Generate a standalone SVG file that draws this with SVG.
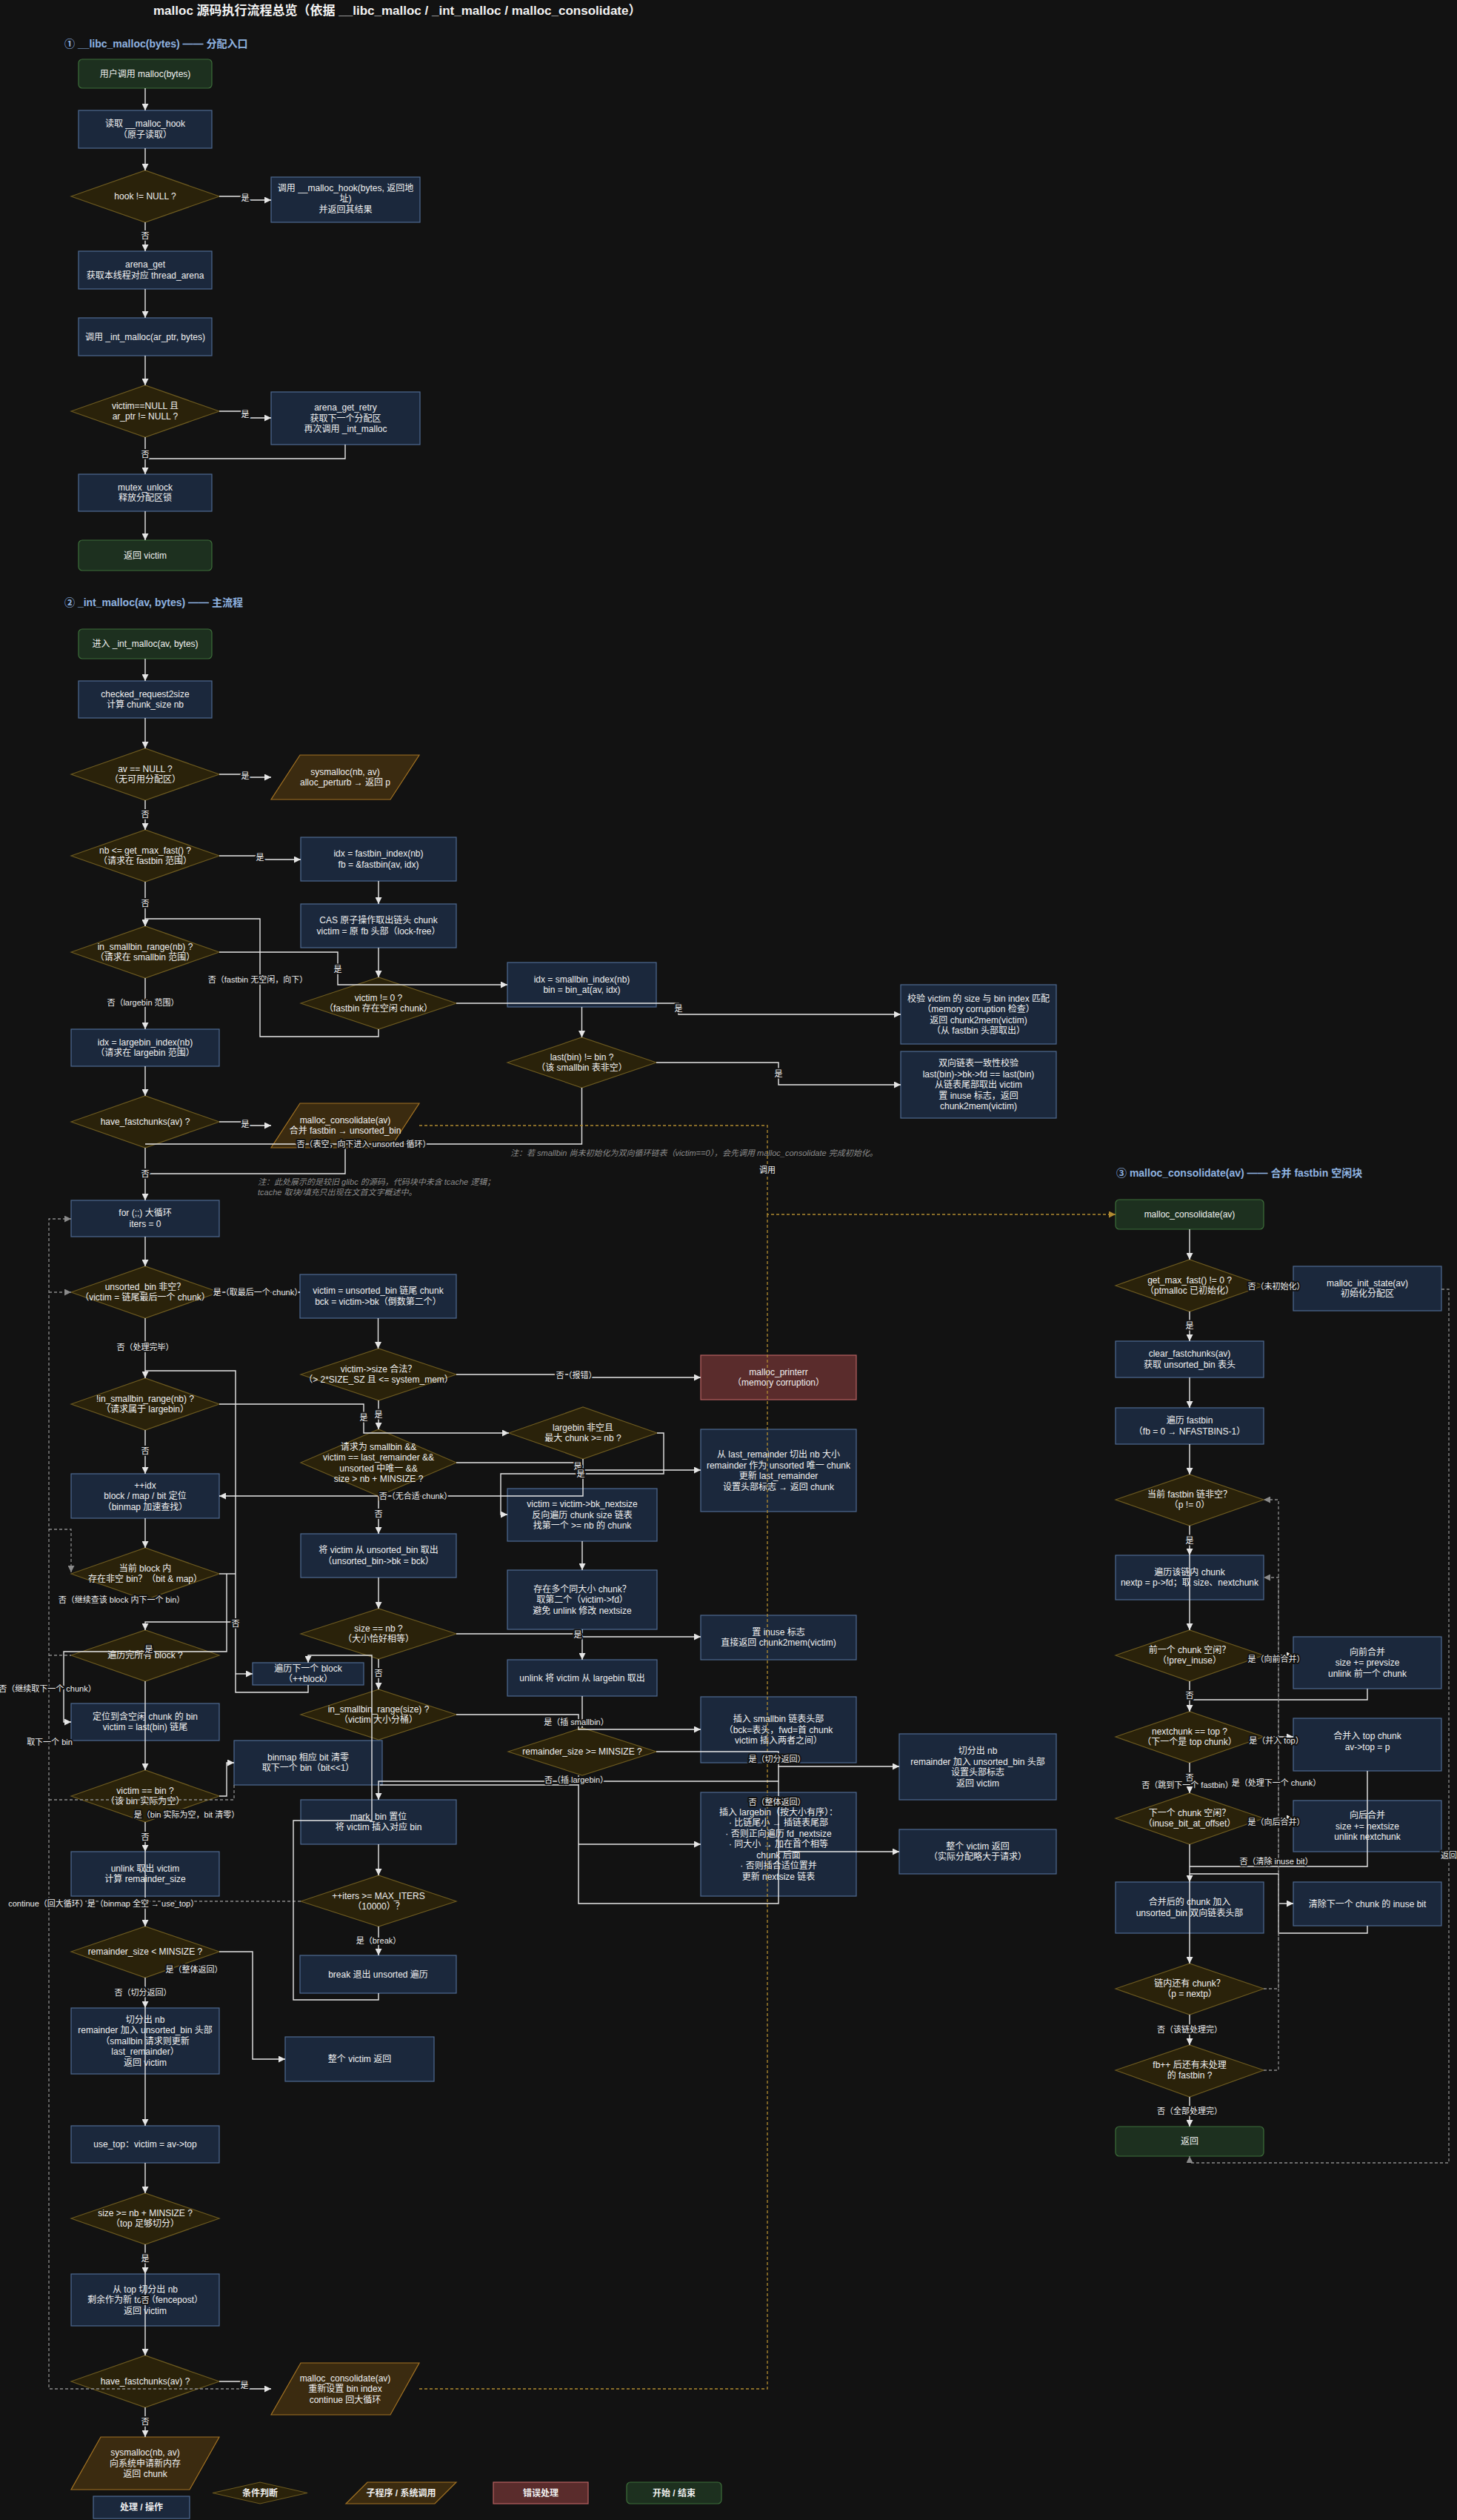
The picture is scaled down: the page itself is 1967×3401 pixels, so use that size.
<svg xmlns="http://www.w3.org/2000/svg" width="1967" height="3401" viewBox="0 0 1967 3401">
<defs>
<style>
.t{font-family:"Liberation Sans","Noto Sans CJK SC",sans-serif;font-size:12px;fill:#f0f0f0;text-anchor:middle}
.b{font-weight:bold}
.p{fill:#1b283c;stroke:#4f6a92;stroke-width:1.2}
.d{fill:#2a220a;stroke:#6b5920;stroke-width:1.2}
.s{fill:#3b2b10;stroke:#a37323;stroke-width:1.2}
.g{fill:#1d301f;stroke:#3d6f3a;stroke-width:1.2}
.e{fill:#5a2c2c;stroke:#b86262;stroke-width:1.2}
.c{fill:none;stroke:#e6e6e6;stroke-width:1.4}
.a{marker-end:url(#aw)}
.cg{fill:none;stroke:#8a8a8a;stroke-width:1.3;stroke-dasharray:4 3}
.ag{marker-end:url(#ag)}
.co{fill:none;stroke:#b08a30;stroke-width:1.3;stroke-dasharray:4 3}
.ao{marker-end:url(#ao)}
.l{font-family:"Liberation Sans","Noto Sans CJK SC",sans-serif;font-size:11px;fill:#eeeeee;text-anchor:middle;paint-order:stroke;stroke:#121212;stroke-width:4px;stroke-linejoin:round}
.h{font-family:"Liberation Sans","Noto Sans CJK SC",sans-serif;font-size:14px;font-weight:bold;fill:#8fb3e0}
.n{font-family:"Liberation Sans","Noto Sans CJK SC",sans-serif;font-size:11px;font-style:italic;fill:#8a8a8a}
.ttl{font-family:"Liberation Sans","Noto Sans CJK SC",sans-serif;font-size:17px;font-weight:bold;fill:#f2f2f2}
</style>
<marker id="aw" viewBox="0 0 10 10" refX="10" refY="5" markerWidth="9" markerHeight="9" markerUnits="userSpaceOnUse" orient="auto"><path d="M0,0 L10,5 L0,10 z" fill="#e6e6e6"/></marker>
<marker id="ag" viewBox="0 0 10 10" refX="10" refY="5" markerWidth="9" markerHeight="9" markerUnits="userSpaceOnUse" orient="auto"><path d="M0,0 L10,5 L0,10 z" fill="#8a8a8a"/></marker>
<marker id="ao" viewBox="0 0 10 10" refX="10" refY="5" markerWidth="9" markerHeight="9" markerUnits="userSpaceOnUse" orient="auto"><path d="M0,0 L10,5 L0,10 z" fill="#b08a30"/></marker>
</defs>
<rect x="0" y="0" width="1967" height="3401" fill="#121212"/>
<text class="ttl" x="207" y="20">malloc 源码执行流程总览（依据 __libc_malloc / _int_malloc / malloc_consolidate）</text>
<text class="h" x="87" y="63.5">① __libc_malloc(bytes) —— 分配入口</text>
<text class="h" x="87" y="818">② _int_malloc(av, bytes) —— 主流程</text>
<text class="h" x="1507" y="1588">③ malloc_consolidate(av) —— 合并 fastbin 空闲块</text>

<g id="nodes-sec1">
<g id="n1"><rect class="g" x="106" y="80" width="180" height="39" rx="5"/><text class="t" x="196" y="103.7">用户调用 malloc(bytes)</text></g>
<g id="n2"><rect class="p" x="106" y="149" width="180" height="51"/><text class="t" y="171.4"><tspan x="196">读取 __malloc_hook</tspan><tspan x="196" dy="14.5">（原子读取）</tspan></text></g>
<g id="d1"><polygon class="d" points="96,265 196,230 296,265 196,300"/><text class="t" x="196" y="269.2">hook != NULL ?</text></g>
<g id="n3"><rect class="p" x="366" y="239" width="201" height="61"/><text class="t" y="257.5"><tspan x="466.5">调用 __malloc_hook(bytes, 返回地</tspan><tspan x="466.5" dy="14.5">址)</tspan><tspan x="466.5" dy="14.5">并返回其结果</tspan></text></g>
<g id="n4"><rect class="p" x="106" y="339" width="180" height="51"/><text class="t" y="361.4"><tspan x="196">arena_get</tspan><tspan x="196" dy="14.5">获取本线程对应 thread_arena</tspan></text></g>
<g id="n5"><rect class="p" x="106" y="429" width="180" height="51"/><text class="t" x="196" y="458.7">调用 _int_malloc(ar_ptr, bytes)</text></g>
<g id="d2"><polygon class="d" points="96,555 196,520 296,555 196,590"/><text class="t" y="551.9"><tspan x="196">victim==NULL 且</tspan><tspan x="196" dy="14.5">ar_ptr != NULL ?</tspan></text></g>
<g id="n6"><rect class="p" x="366" y="529" width="201" height="71"/><text class="t" y="554.2"><tspan x="466.5">arena_get_retry</tspan><tspan x="466.5" dy="14.5">获取下一个分配区</tspan><tspan x="466.5" dy="14.5">再次调用 _int_malloc</tspan></text></g>
<g id="n7"><rect class="p" x="106" y="640" width="180" height="50"/><text class="t" y="661.9"><tspan x="196">mutex_unlock</tspan><tspan x="196" dy="14.5">释放分配区锁</tspan></text></g>
<g id="n8"><rect class="g" x="106" y="729" width="180" height="41" rx="5"/><text class="t" x="196" y="753.7">返回 victim</text></g>
</g>

<g id="nodes-sec2">
<g id="m1"><rect class="g" x="106" y="849" width="180" height="40" rx="5"/><text class="t" x="196" y="873.2">进入 _int_malloc(av, bytes)</text></g>
<g id="m2"><rect class="p" x="106" y="919" width="180" height="50"/><text class="t" y="940.9"><tspan x="196">checked_request2size</tspan><tspan x="196" dy="14.5">计算 chunk_size nb</tspan></text></g>
<g id="md1"><polygon class="d" points="96,1045 196,1010 296,1045 196,1080"/><text class="t" y="1041.9"><tspan x="196">av == NULL ?</tspan><tspan x="196" dy="14.5">（无可用分配区）</tspan></text></g>
<g id="mp1"><polygon class="s" points="405,1019 566,1019 527,1079 366,1079"/><text class="t" y="1045.9"><tspan x="466">sysmalloc(nb, av)</tspan><tspan x="466" dy="14.5">alloc_perturb → 返回 p</tspan></text></g>
<g id="md2"><polygon class="d" points="96,1155 196,1120 296,1155 196,1190"/><text class="t" y="1151.9"><tspan x="196">nb &lt;= get_max_fast() ?</tspan><tspan x="196" dy="14.5">（请求在 fastbin 范围）</tspan></text></g>
<g id="m3"><rect class="p" x="406" y="1130" width="210" height="59"/><text class="t" y="1156.4"><tspan x="511">idx = fastbin_index(nb)</tspan><tspan x="511" dy="14.5">fb = &amp;fastbin(av, idx)</tspan></text></g>
<g id="m4"><rect class="p" x="406" y="1220" width="210" height="59"/><text class="t" y="1246.4"><tspan x="511">CAS 原子操作取出链头 chunk</tspan><tspan x="511" dy="14.5">victim = 原 fb 头部（lock-free）</tspan></text></g>
<g id="md3"><polygon class="d" points="96,1285 196,1250 296,1285 196,1320"/><text class="t" y="1281.9"><tspan x="196">in_smallbin_range(nb) ?</tspan><tspan x="196" dy="14.5">（请求在 smallbin 范围）</tspan></text></g>
<g id="md4"><polygon class="d" points="406,1354 511,1319 616,1354 511,1389"/><text class="t" y="1350.9"><tspan x="511">victim != 0 ?</tspan><tspan x="511" dy="14.5">（fastbin 存在空闲 chunk）</tspan></text></g>
<g id="m5"><rect class="p" x="685" y="1299" width="201" height="60"/><text class="t" y="1325.9"><tspan x="785.5">idx = smallbin_index(nb)</tspan><tspan x="785.5" dy="14.5">bin = bin_at(av, idx)</tspan></text></g>
<g id="md5"><polygon class="d" points="685,1434 785.5,1400 886,1434 785.5,1468"/><text class="t" y="1430.9"><tspan x="785.5">last(bin) != bin ?</tspan><tspan x="785.5" dy="14.5">（该 smallbin 表非空）</tspan></text></g>
<g id="m6"><rect class="p" x="1216" y="1329" width="210" height="80"/><text class="t" y="1351.5"><tspan x="1321">校验 victim 的 size 与 bin index 匹配</tspan><tspan x="1321" dy="14.5">（memory corruption 检查）</tspan><tspan x="1321" dy="14.5">返回 chunk2mem(victim)</tspan><tspan x="1321" dy="14.5">（从 fastbin 头部取出）</tspan></text></g>
<g id="m7"><rect class="p" x="1216" y="1419" width="210" height="90"/><text class="t" y="1439.2"><tspan x="1321">双向链表一致性校验</tspan><tspan x="1321" dy="14.5">last(bin)-&gt;bk-&gt;fd == last(bin)</tspan><tspan x="1321" dy="14.5">从链表尾部取出 victim</tspan><tspan x="1321" dy="14.5">置 inuse 标志，返回</tspan><tspan x="1321" dy="14.5">chunk2mem(victim)</tspan></text></g>
<g id="m8"><rect class="p" x="96" y="1389" width="200" height="50"/><text class="t" y="1410.9"><tspan x="196">idx = largebin_index(nb)</tspan><tspan x="196" dy="14.5">（请求在 largebin 范围）</tspan></text></g>
<g id="md6"><polygon class="d" points="96,1514 196,1479 296,1514 196,1549"/><text class="t" x="196" y="1518.2">have_fastchunks(av) ?</text></g>
<g id="mp2"><polygon class="s" points="405,1489 566,1489 527,1549 366,1549"/><text class="t" y="1515.9"><tspan x="466">malloc_consolidate(av)</tspan><tspan x="466" dy="14.5">合并 fastbin → unsorted_bin</tspan></text></g>

<g id="u1"><rect class="p" x="96" y="1620" width="200" height="49"/><text class="t" y="1641.4"><tspan x="196">for (;;) 大循环</tspan><tspan x="196" dy="14.5">iters = 0</tspan></text></g>
<g id="ud1"><polygon class="d" points="96,1744 196,1709 296,1744 196,1779"/><text class="t" y="1740.9"><tspan x="196">unsorted_bin 非空？</tspan><tspan x="196" dy="14.5">（victim = 链尾最后一个 chunk）</tspan></text></g>
<g id="u2"><rect class="p" x="405" y="1720" width="211" height="59"/><text class="t" y="1746.4"><tspan x="510.5">victim = unsorted_bin 链尾 chunk</tspan><tspan x="510.5" dy="14.5">bck = victim-&gt;bk（倒数第二个）</tspan></text></g>
<g id="ud2"><polygon class="d" points="406,1855 511,1820 616,1855 511,1890"/><text class="t" y="1851.9"><tspan x="511">victim-&gt;size 合法？</tspan><tspan x="511" dy="14.5">（&gt; 2*SIZE_SZ 且 &lt;= system_mem）</tspan></text></g>
<g id="ue"><rect class="e" x="946" y="1829" width="210" height="60"/><text class="t" y="1855.9"><tspan x="1051">malloc_printerr</tspan><tspan x="1051" dy="14.5">（memory corruption）</tspan></text></g>
<g id="ud3"><polygon class="d" points="96,1895 196,1860 296,1895 196,1930"/><text class="t" y="1891.9"><tspan x="196">!in_smallbin_range(nb) ?</tspan><tspan x="196" dy="14.5">（请求属于 largebin）</tspan></text></g>
<g id="ud4"><polygon class="d" points="406,1974 511,1929 616,1974 511,2019"/><text class="t" y="1956.5"><tspan x="511">请求为 smallbin &amp;&amp;</tspan><tspan x="511" dy="14.5">victim == last_remainder &amp;&amp;</tspan><tspan x="511" dy="14.5">unsorted 中唯一 &amp;&amp;</tspan><tspan x="511" dy="14.5">size &gt; nb + MINSIZE ?</tspan></text></g>
<g id="ud5"><polygon class="d" points="687,1934 787,1899 887,1934 787,1969"/><text class="t" y="1930.9"><tspan x="787">largebin 非空且</tspan><tspan x="787" dy="14.5">最大 chunk &gt;= nb ?</tspan></text></g>
<g id="u3"><rect class="p" x="946" y="1929" width="210" height="111"/><text class="t" y="1967"><tspan x="1051">从 last_remainder 切出 nb 大小</tspan><tspan x="1051" dy="14.5">remainder 作为 unsorted 唯一 chunk</tspan><tspan x="1051" dy="14.5">更新 last_remainder</tspan><tspan x="1051" dy="14.5">设置头部标志 → 返回 chunk</tspan></text></g>
<g id="u4"><rect class="p" x="96" y="1989" width="200" height="60"/><text class="t" y="2008.7"><tspan x="196">++idx</tspan><tspan x="196" dy="14.5">block / map / bit 定位</tspan><tspan x="196" dy="14.5">（binmap 加速查找）</tspan></text></g>
<g id="u5"><rect class="p" x="685" y="2009" width="202" height="71"/><text class="t" y="2034.2"><tspan x="786">victim = victim-&gt;bk_nextsize</tspan><tspan x="786" dy="14.5">反向遍历 chunk size 链表</tspan><tspan x="786" dy="14.5">找第一个 &gt;= nb 的 chunk</tspan></text></g>
<g id="u6"><rect class="p" x="406" y="2070" width="210" height="59"/><text class="t" y="2096.4"><tspan x="511">将 victim 从 unsorted_bin 取出</tspan><tspan x="511" dy="14.5">（unsorted_bin-&gt;bk = bck）</tspan></text></g>
<g id="u7"><rect class="p" x="685" y="2119" width="202" height="80"/><text class="t" y="2148.7"><tspan x="786">存在多个同大小 chunk？</tspan><tspan x="786" dy="14.5">取第二个（victim-&gt;fd）</tspan><tspan x="786" dy="14.5">避免 unlink 修改 nextsize</tspan></text></g>
<g id="ud6"><polygon class="d" points="96,2124 196,2089 296,2124 196,2159"/><text class="t" y="2120.9"><tspan x="196">当前 block 内</tspan><tspan x="196" dy="14.5">存在非空 bin？（bit &amp; map）</tspan></text></g>
<g id="ud7"><polygon class="d" points="406,2205 511,2171 616,2205 511,2239"/><text class="t" y="2201.9"><tspan x="511">size == nb ?</tspan><tspan x="511" dy="14.5">（大小恰好相等）</tspan></text></g>
<g id="u8"><rect class="p" x="946" y="2180" width="210" height="60"/><text class="t" y="2206.9"><tspan x="1051">置 inuse 标志</tspan><tspan x="1051" dy="14.5">直接返回 chunk2mem(victim)</tspan></text></g>
<g id="ud8"><polygon class="d" points="96,2234 196,2200 296,2234 196,2269"/><text class="t" x="196" y="2238.2">遍历完所有 block ?</text></g>
<g id="u9"><rect class="p" x="341" y="2244" width="150" height="30"/><text class="t" y="2255.5"><tspan x="416">遍历下一个 block</tspan><tspan x="416" dy="14">（++block）</tspan></text></g>
<g id="u10"><rect class="p" x="685" y="2240" width="202" height="49"/><text class="t" x="786" y="2268.7">unlink 将 victim 从 largebin 取出</text></g>
<g id="ud9"><polygon class="d" points="406,2314 511,2280 616,2314 511,2348"/><text class="t" y="2310.9"><tspan x="511">in_smallbin_range(size) ?</tspan><tspan x="511" dy="14.5">（victim 大小分桶）</tspan></text></g>
<g id="u11"><rect class="p" x="946" y="2290" width="210" height="89"/><text class="t" y="2324.2"><tspan x="1051">插入 smallbin 链表头部</tspan><tspan x="1051" dy="14.5">（bck=表头，fwd=首 chunk</tspan><tspan x="1051" dy="14.5">victim 插入两者之间）</tspan></text></g>
<g id="ud10"><polygon class="d" points="686,2364 786,2332 886,2364 786,2396"/><text class="t" x="786" y="2368.2">remainder_size &gt;= MINSIZE ?</text></g>
<g id="u12"><rect class="p" x="96" y="2299" width="200" height="50"/><text class="t" y="2320.9"><tspan x="196">定位到含空闲 chunk 的 bin</tspan><tspan x="196" dy="14.5">victim = last(bin) 链尾</tspan></text></g>
<g id="u13"><rect class="p" x="316" y="2349" width="200" height="60"/><text class="t" y="2375.9"><tspan x="416">binmap 相应 bit 清零</tspan><tspan x="416" dy="14.5">取下一个 bin（bit&lt;&lt;1）</tspan></text></g>
<g id="u14"><rect class="p" x="1214" y="2340" width="212" height="89"/><text class="t" y="2367"><tspan x="1320">切分出 nb</tspan><tspan x="1320" dy="14.5">remainder 加入 unsorted_bin 头部</tspan><tspan x="1320" dy="14.5">设置头部标志</tspan><tspan x="1320" dy="14.5">返回 victim</tspan></text></g>
<g id="ud11"><polygon class="d" points="96,2424 196,2389 296,2424 196,2459"/><text class="t" y="2420.9"><tspan x="196">victim == bin ?</tspan><tspan x="196" dy="14.5">（该 bin 实际为空）</tspan></text></g>
<g id="u15"><rect class="p" x="406" y="2429" width="210" height="60"/><text class="t" y="2455.9"><tspan x="511">mark_bin 置位</tspan><tspan x="511" dy="14.5">将 victim 插入对应 bin</tspan></text></g>
<g id="u16"><rect class="p" x="946" y="2419" width="210" height="140"/><text class="t" y="2449.7"><tspan x="1051">插入 largebin（按大小有序）：</tspan><tspan x="1051" dy="14.5">· 比链尾小 → 插链表尾部</tspan><tspan x="1051" dy="14.5">· 否则正向遍历 fd_nextsize</tspan><tspan x="1051" dy="14.5">· 同大小 → 加在首个相等</tspan><tspan x="1051" dy="14.5">chunk 后面</tspan><tspan x="1051" dy="14.5">· 否则插合适位置并</tspan><tspan x="1051" dy="14.5">更新 nextsize 链表</tspan></text></g>
<g id="u17"><rect class="p" x="1214" y="2469" width="212" height="60"/><text class="t" y="2495.9"><tspan x="1320">整个 victim 返回</tspan><tspan x="1320" dy="14.5">（实际分配略大于请求）</tspan></text></g>
<g id="u18"><rect class="p" x="96" y="2499" width="200" height="60"/><text class="t" y="2525.9"><tspan x="196">unlink 取出 victim</tspan><tspan x="196" dy="14.5">计算 remainder_size</tspan></text></g>
<g id="ud12"><polygon class="d" points="406,2566 511,2531 616,2566 511,2600"/><text class="t" y="2562.9"><tspan x="511">++iters &gt;= MAX_ITERS</tspan><tspan x="511" dy="14.5">（10000）？</tspan></text></g>
<g id="ud13"><polygon class="d" points="96,2634 196,2600 296,2634 196,2669"/><text class="t" x="196" y="2638.2">remainder_size &lt; MINSIZE ?</text></g>
<g id="u19"><rect class="p" x="405" y="2639" width="211" height="51"/><text class="t" x="510.5" y="2668.7">break 退出 unsorted 遍历</text></g>
<g id="u20"><rect class="p" x="96" y="2710" width="200" height="89"/><text class="t" y="2729.7"><tspan x="196">切分出 nb</tspan><tspan x="196" dy="14.5">remainder 加入 unsorted_bin 头部</tspan><tspan x="196" dy="14.5">（smallbin 请求则更新</tspan><tspan x="196" dy="14.5">last_remainder）</tspan><tspan x="196" dy="14.5">返回 victim</tspan></text></g>
<g id="u21"><rect class="p" x="385" y="2749" width="201" height="60"/><text class="t" x="485.5" y="2783.2">整个 victim 返回</text></g>
<g id="u22"><rect class="p" x="96" y="2869" width="200" height="50"/><text class="t" x="196" y="2898.2">use_top：victim = av-&gt;top</text></g>
<g id="ud14"><polygon class="d" points="96,2994 196,2960 296,2994 196,3029"/><text class="t" y="2990.9"><tspan x="196">size &gt;= nb + MINSIZE ?</tspan><tspan x="196" dy="14.5">（top 足够切分）</tspan></text></g>
<g id="u23"><rect class="p" x="96" y="3069" width="200" height="70"/><text class="t" y="3093.7"><tspan x="196">从 top 切分出 nb</tspan><tspan x="196" dy="14.5">剩余作为新 top（fencepost）</tspan><tspan x="196" dy="14.5">返回 victim</tspan></text></g>
<g id="ud15"><polygon class="d" points="96,3214 196,3179 296,3214 196,3249"/><text class="t" x="196" y="3218.2">have_fastchunks(av) ?</text></g>
<g id="up1"><polygon class="s" points="406,3189 566,3189 527,3259 366,3259"/><text class="t" y="3213.7"><tspan x="466">malloc_consolidate(av)</tspan><tspan x="466" dy="14.5">重新设置 bin index</tspan><tspan x="466" dy="14.5">continue 回大循环</tspan></text></g>
<g id="up2"><polygon class="s" points="136,3289 296,3289 256,3360 96,3360"/><text class="t" y="3314.2"><tspan x="196">sysmalloc(nb, av)</tspan><tspan x="196" dy="14.5">向系统申请新内存</tspan><tspan x="196" dy="14.5">返回 chunk</tspan></text></g>
</g>

<g id="nodes-sec3">
<g id="c1"><rect class="g" x="1506" y="1619" width="200" height="40" rx="5"/><text class="t" x="1606" y="1643.2">malloc_consolidate(av)</text></g>
<g id="cd1"><polygon class="d" points="1506,1735 1606,1700 1706,1735 1606,1770"/><text class="t" y="1731.9"><tspan x="1606">get_max_fast() != 0 ?</tspan><tspan x="1606" dy="14.5">（ptmalloc 已初始化）</tspan></text></g>
<g id="c2"><rect class="p" x="1746" y="1709" width="200" height="60"/><text class="t" y="1735.9"><tspan x="1846">malloc_init_state(av)</tspan><tspan x="1846" dy="14.5">初始化分配区</tspan></text></g>
<g id="c3"><rect class="p" x="1506" y="1810" width="200" height="49"/><text class="t" y="1831.4"><tspan x="1606">clear_fastchunks(av)</tspan><tspan x="1606" dy="14.5">获取 unsorted_bin 表头</tspan></text></g>
<g id="c4"><rect class="p" x="1506" y="1900" width="200" height="49"/><text class="t" y="1921.4"><tspan x="1606">遍历 fastbin</tspan><tspan x="1606" dy="14.5">（fb = 0 → NFASTBINS-1）</tspan></text></g>
<g id="cd2"><polygon class="d" points="1506,2024 1606,1990 1706,2024 1606,2059"/><text class="t" y="2020.9"><tspan x="1606">当前 fastbin 链非空？</tspan><tspan x="1606" dy="14.5">（p != 0）</tspan></text></g>
<g id="c5"><rect class="p" x="1506" y="2099" width="200" height="60"/><text class="t" y="2125.9"><tspan x="1606">遍历该链内 chunk</tspan><tspan x="1606" dy="14.5">nextp = p-&gt;fd；取 size、nextchunk</tspan></text></g>
<g id="cd3"><polygon class="d" points="1506,2234 1606,2200 1706,2234 1606,2269"/><text class="t" y="2230.9"><tspan x="1606">前一个 chunk 空闲？</tspan><tspan x="1606" dy="14.5">（!prev_inuse）</tspan></text></g>
<g id="c6"><rect class="p" x="1746" y="2209" width="200" height="70"/><text class="t" y="2233.7"><tspan x="1846">向前合并</tspan><tspan x="1846" dy="14.5">size += prevsize</tspan><tspan x="1846" dy="14.5">unlink 前一个 chunk</tspan></text></g>
<g id="cd4"><polygon class="d" points="1506,2344 1606,2310 1706,2344 1606,2379"/><text class="t" y="2340.9"><tspan x="1606">nextchunk == top ?</tspan><tspan x="1606" dy="14.5">（下一个是 top chunk）</tspan></text></g>
<g id="c7"><rect class="p" x="1746" y="2319" width="200" height="71"/><text class="t" y="2347.4"><tspan x="1846">合并入 top chunk</tspan><tspan x="1846" dy="14.5">av-&gt;top = p</tspan></text></g>
<g id="cd5"><polygon class="d" points="1506,2454 1606,2420 1706,2454 1606,2489"/><text class="t" y="2450.9"><tspan x="1606">下一个 chunk 空闲？</tspan><tspan x="1606" dy="14.5">（inuse_bit_at_offset）</tspan></text></g>
<g id="c8"><rect class="p" x="1746" y="2430" width="200" height="69"/><text class="t" y="2454.2"><tspan x="1846">向后合并</tspan><tspan x="1846" dy="14.5">size += nextsize</tspan><tspan x="1846" dy="14.5">unlink nextchunk</tspan></text></g>
<g id="c9"><rect class="p" x="1506" y="2540" width="200" height="69"/><text class="t" y="2571.4"><tspan x="1606">合并后的 chunk 加入</tspan><tspan x="1606" dy="14.5">unsorted_bin 双向链表头部</tspan></text></g>
<g id="c10"><rect class="p" x="1746" y="2540" width="200" height="59"/><text class="t" x="1846" y="2573.7">清除下一个 chunk 的 inuse bit</text></g>
<g id="cd6"><polygon class="d" points="1506,2684 1606,2650 1706,2684 1606,2719"/><text class="t" y="2680.9"><tspan x="1606">链内还有 chunk？</tspan><tspan x="1606" dy="14.5">（p = nextp）</tspan></text></g>
<g id="cd7"><polygon class="d" points="1506,2794 1606,2760 1706,2794 1606,2830"/><text class="t" y="2790.9"><tspan x="1606">fb++ 后还有未处理</tspan><tspan x="1606" dy="14.5">的 fastbin ?</tspan></text></g>
<g id="c11"><rect class="g" x="1506" y="2870" width="200" height="40" rx="5"/><text class="t" x="1606" y="2894.2">返回</text></g>
</g>

<g id="legend">
<g id="lg1"><rect class="p" x="126" y="3369" width="130" height="30"/><text class="t b" x="191" y="3388.2">处理 / 操作</text></g>
<g id="lg2"><polygon class="d" points="287,3364.5 351,3350 415,3364.5 351,3379"/><text class="t b" x="351" y="3368.7">条件判断</text></g>
<g id="lg3"><polygon class="s" points="496,3350 616,3350 587,3379 467,3379"/><text class="t b" x="541.5" y="3368.7">子程序 / 系统调用</text></g>
<g id="lg4"><rect class="e" x="666" y="3350" width="128" height="29"/><text class="t b" x="730" y="3368.7">错误处理</text></g>
<g id="lg5"><rect class="g" x="846" y="3350" width="128" height="29" rx="5"/><text class="t b" x="910" y="3368.7">开始 / 结束</text></g>
</g>

<g id="notes">
<text class="n" x="689" y="1560">注：若 smallbin 尚未初始化为双向循环链表（victim==0），会先调用 malloc_consolidate 完成初始化。</text>
<text class="n" x="348" y="1599">注：此处展示的是较旧 glibc 的源码，代码块中未含 tcache 逻辑；</text>
<text class="n" x="348" y="1613">tcache 取块/填充只出现在文首文字概述中。</text>
</g>

<g id="connectors">
<path class="c a" d="M196,119 V149"/>
<path class="c a" d="M196,200 V230"/>
<path class="c a" d="M296,265 H331 V270 H366"/>
<path class="c a" d="M196,300 V339"/>
<path class="c a" d="M196,390 V429"/>
<path class="c a" d="M196,480 V520"/>
<path class="c a" d="M296,555 H331 V564 H366"/>
<path class="c a" d="M196,590 V640"/>
<path class="c" d="M466,600 V619 H196"/>
<path class="c a" d="M196,690 V729"/>

<path class="c a" d="M196,889 V919"/>
<path class="c a" d="M196,969 V1010"/>
<path class="c a" d="M296,1045 H331 V1049 H366"/>
<path class="c a" d="M196,1080 V1120"/>
<path class="c a" d="M296,1155 H351 V1160 H406"/>
<path class="c a" d="M196,1190 V1250"/>
<path class="c a" d="M511,1189 V1220"/>
<path class="c a" d="M511,1279 V1319"/>
<path class="c a" d="M511,1389 V1399 H351 V1240 H196 V1250"/>
<path class="c a" d="M296,1285 H456 V1329 H685"/>
<path class="c a" d="M616,1354 H916 V1369 H1216"/>
<path class="c a" d="M785.5,1359 V1400"/>
<path class="c a" d="M886,1434 H1051 V1464 H1216"/>
<path class="c a" d="M196,1320 V1389"/>
<path class="c a" d="M196,1439 V1479"/>
<path class="c a" d="M296,1514 H331 V1519 H366"/>
<path class="c" d="M785.5,1468 V1544 H196"/>
<path class="c" d="M466,1549 V1584 H196"/>
<path class="c a" d="M196,1549 V1620"/>
<path class="co ao" d="M566,1519 H1036 V1639 H1506"/>
<path class="co" d="M566,3224 H1036 V1639"/>

<path class="c a" d="M196,1669 V1709"/>
<path class="c a" d="M296,1744 H405"/>
<path class="c a" d="M196,1779 V1860"/>
<path class="c" d="M416,2274 V2284 H318 V1850 H196"/>
<path class="c a" d="M510.5,1779 V1820"/>
<path class="c a" d="M616,1855 H778 V1859 H946"/>
<path class="c a" d="M511,1890 V1929"/>
<path class="c a" d="M296,1895 H491 V1934 H687"/>
<path class="c a" d="M616,1974 H780 V1984 H946"/>
<path class="c a" d="M887,1934 H896 V1989 H676 V2044 H685"/>
<path class="c a" d="M787,1969 V2019 H296"/>
<path class="c a" d="M196,1930 V1989"/>
<path class="c a" d="M511,2019 V2070"/>
<path class="c a" d="M196,2049 V2089"/>
<path class="c a" d="M786,2080 V2119"/>
<path class="c a" d="M786,2199 V2240"/>
<path class="c a" d="M511,2129 V2171"/>
<path class="c a" d="M616,2205 H780 V2209 H946"/>
<path class="c a" d="M511,2239 V2280"/>
<path class="c a" d="M616,2314 H781 V2334 H946"/>
<path class="c a" d="M786,2289 V2332"/>
<path class="c a" d="M886,2364 H1051 V2384 H1214"/>
<path class="c a" d="M1051,2384 V2499 H1214"/>
<path class="c a" d="M1051,2404 H511 V2429"/>
<path class="c" d="M781,2396 V2569 H1051 V2499"/>
<path class="c" d="M781,2409 H513"/>
<path class="c a" d="M781,2489 H946"/>
<path class="c a" d="M511,2489 V2531"/>
<path class="c a" d="M511,2600 V2639"/>
<path class="cg" d="M406,2566 H66"/>
<path class="c a" d="M511,2690 V2699 H396 V2457 H502 V2234 H416 V2244"/>
<path class="c" d="M296,2124 H318"/>
<path class="c a" d="M318,2189 H196 V2200"/>
<path class="c a" d="M306,2124 V2229 H86 V2324 H96"/>
<path class="c a" d="M318,2259 H341"/>
<path class="cg" d="M66,2234 H96"/>
<path class="c a" d="M196,2269 V2389"/>
<path class="cg ag" d="M66,2064 H96 V2122"/>
<path class="c a" d="M296,2424 H306 V2379 H316"/>
<path class="cg" d="M316,2409 V2429 H66"/>
<path class="c a" d="M196,2459 V2499"/>
<path class="c a" d="M196,2499 V2600"/>
<path class="c a" d="M296,2634 H341 V2779 H385"/>
<path class="c a" d="M196,2669 V2710"/>
<path class="c a" d="M196,2710 V2869"/>
<path class="c a" d="M196,2919 V2960"/>
<path class="c a" d="M196,3029 V3069"/>
<path class="c a" d="M196,3069 V3179"/>
<path class="c a" d="M296,3214 H326 V3224 H366"/>
<path class="c a" d="M196,3249 V3289"/>
<path class="cg ag" d="M330,3224 H66 V1645 H96"/>
<path class="cg ag" d="M66,1744 H96"/>

<path class="c a" d="M1606,1659 V1700"/>
<path class="c a" d="M1706,1735 H1746"/>
<path class="c a" d="M1606,1770 V1810"/>
<path class="c a" d="M1606,1859 V1900"/>
<path class="c a" d="M1606,1949 V1990"/>
<path class="c a" d="M1606,2059 V2099"/>
<path class="c a" d="M1606,2099 V2200"/>
<path class="c a" d="M1706,2234 H1746"/>
<path class="c a" d="M1606,2269 V2310"/>
<path class="c" d="M1846,2279 V2294 H1606"/>
<path class="c a" d="M1706,2344 H1746"/>
<path class="c a" d="M1606,2379 V2420"/>
<path class="c a" d="M1706,2454 H1746"/>
<path class="c" d="M1846,2390 V2519 H1606"/>
<path class="c" d="M1606,2529 H1726 V2609 H1846 V2599"/>
<path class="c a" d="M1726,2569 H1746"/>
<path class="c a" d="M1606,2489 V2540"/>
<path class="c a" d="M1606,2540 V2650"/>
<path class="cg ag" d="M1706,2684 H1726 V2129 H1706"/>
<path class="c a" d="M1606,2719 V2760"/>
<path class="cg ag" d="M1706,2794 H1726 V2024 H1706"/>
<path class="c a" d="M1606,2830 V2870"/>
<path class="cg ag" d="M1946,1740 H1956 V2919 H1606 V2910"/>
</g>

<g id="edge-labels">
<text class="l" x="331" y="271">是</text>
<text class="l" x="196" y="322">否</text>
<text class="l" x="331" y="563">是</text>
<text class="l" x="196" y="617">否</text>
<text class="l" x="331" y="1051">是</text>
<text class="l" x="196" y="1103">否</text>
<text class="l" x="351" y="1161">是</text>
<text class="l" x="196" y="1223">否</text>
<text class="l" x="348" y="1326">否（fastbin 无空闲，向下）</text>
<text class="l" x="456" y="1312">是</text>
<text class="l" x="916" y="1365">是</text>
<text class="l" x="1051" y="1453">是</text>
<text class="l" x="193" y="1357">否（largebin 范围）</text>
<text class="l" x="331" y="1521">是</text>
<text class="l" x="491" y="1548">否（表空，向下进入 unsorted 循环）</text>
<text class="l" x="196" y="1588">否</text>
<text class="l" x="1036" y="1583">调用</text>
<text class="l" x="348" y="1748">是（取最后一个 chunk）</text>
<text class="l" x="196" y="1822">否（处理完毕）</text>
<text class="l" x="778" y="1860">否（报错）</text>
<text class="l" x="511" y="1913">是</text>
<text class="l" x="491" y="1917">是</text>
<text class="l" x="780" y="1983">是</text>
<text class="l" x="784" y="1993">是</text>
<text class="l" x="561" y="2023">否（无合适 chunk）</text>
<text class="l" x="196" y="1962">否</text>
<text class="l" x="511" y="2047">否</text>
<text class="l" x="780" y="2210">是</text>
<text class="l" x="511" y="2262">否</text>
<text class="l" x="778" y="2328">是（插 smallbin）</text>
<text class="l" x="1049" y="2378">是（切分返回）</text>
<text class="l" x="1049" y="2436">否（整体返回）</text>
<text class="l" x="778" y="2406">否（插 largebin）</text>
<text class="l" x="511" y="2623">是（break）</text>
<text class="l" x="65" y="2573">continue（回大循环）</text>
<text class="l" x="193" y="2573">是（binmap 全空 → use_top）</text>
<text class="l" x="164" y="2163">否（继续查该 block 内下一个 bin）</text>
<text class="l" x="318" y="2195">否</text>
<text class="l" x="201" y="2230">是</text>
<text class="l" x="64" y="2283">否（继续取下一个 chunk）</text>
<text class="l" x="67" y="2355">取下一个 bin</text>
<text class="l" x="252" y="2453">是（bin 实际为空，bit 清零）</text>
<text class="l" x="196" y="2483">否</text>
<text class="l" x="262" y="2662">是（整体返回）</text>
<text class="l" x="193" y="2693">否（切分返回）</text>
<text class="l" x="196" y="3052">是</text>
<text class="l" x="196" y="3108">否</text>
<text class="l" x="330" y="3223">是</text>
<text class="l" x="196" y="3272">否</text>
<text class="l" x="1723" y="1740">否（未初始化）</text>
<text class="l" x="1606" y="1793">是</text>
<text class="l" x="1606" y="2083">是</text>
<text class="l" x="1723" y="2243">是（向前合并）</text>
<text class="l" x="1606" y="2292">否</text>
<text class="l" x="1723" y="2353">是（并入 top）</text>
<text class="l" x="1606" y="2403">否</text>
<text class="l" x="1603" y="2413">否（跳到下一个 fastbin）</text>
<text class="l" x="1723" y="2410">是（处理下一个 chunk）</text>
<text class="l" x="1723" y="2463">是（向后合并）</text>
<text class="l" x="1723" y="2516">否（清除 inuse bit）</text>
<text class="l" x="1606" y="2743">否（该链处理完）</text>
<text class="l" x="1606" y="2853">否（全部处理完）</text>
<text class="l" x="1956" y="2508">返回</text>
</g>
</svg>
